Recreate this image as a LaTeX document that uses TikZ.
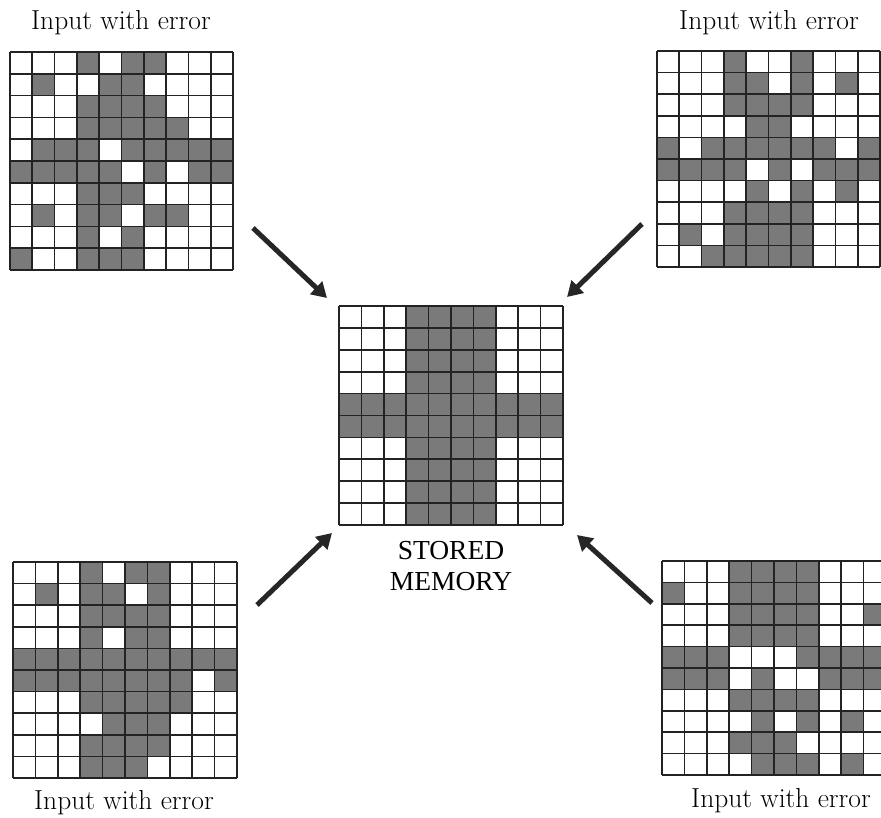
\documentclass[tikz,border=0pt]{standalone}
\usepackage{fontspec}
\newfontfamily\timesfont{Liberation Serif}
\usetikzlibrary{arrows.meta,fit}
\definecolor{cellgray}{RGB}{122,122,122}
\definecolor{linegray}{RGB}{35,35,35}
\tikzset{
  cellfill/.style={fill=cellgray},
  gridline/.style={draw=linegray,line width=1.7pt},
  bigarrow/.style={draw=black!85,line width=5pt,-{Triangle[length=15pt,width=17pt]}},
  inlabel/.style={font=\fontsize{27.5}{32}\selectfont,anchor=base,inner sep=0pt},
  memlabel/.style={font=\timesfont\fontsize{27.5}{31}\selectfont,anchor=base,inner sep=0pt},
  gridbox/.style={inner sep=0pt,draw=none}
}
\newcommand\mygrid[6]{%
  \foreach \rl [count=\j from 0] in {#6} {
    \foreach \v [count=\i from 0] in \rl {
      \ifnum\v=1 \fill[cellfill] (#2+\i*#4,#3+\j*#5) rectangle ++(#4,#5);\fi
    }
  }
  \foreach \k in {0,...,10} {
    \draw[gridline] (#2+\k*#4,#3) -- ++(0,10*#5);
    \draw[gridline] (#2,#3+\k*#5) -- ++(10*#4,0);
  }
  \coordinate (#1-nw) at (#2,#3);
  \coordinate (#1-se) at (#2+10*#4,#3+10*#5);
  \node[gridbox,fit=(#1-nw)(#1-se)] (#1) {};
}
\begin{document}
\begin{tikzpicture}[x=1pt,y=-1pt]
\useasboundingbox (0,0) rectangle (881,817);
\fill[white] (0,0) rectangle (881,817);
\begin{scope}
\clip (0,0) rectangle (881,817);
% top-left
\mygrid{tl}{10}{52}{22.3}{21.8}{
 {0,0,0,1,0,1,1,0,0,0},
 {0,1,0,0,1,1,0,0,0,0},
 {0,0,0,1,1,1,1,0,0,0},
 {0,0,0,1,1,1,1,1,0,0},
 {0,1,1,1,0,1,1,1,1,1},
 {1,1,1,1,1,0,1,0,1,1},
 {0,0,0,1,1,1,0,0,0,0},
 {0,1,0,1,1,0,1,1,0,0},
 {0,0,0,1,0,1,0,0,0,0},
 {1,0,0,1,1,1,0,0,0,0}}
% top-right
\mygrid{tr}{657}{51}{22.3}{21.6}{
 {0,0,0,1,0,0,1,0,0,0},
 {0,0,0,1,1,0,1,0,1,0},
 {0,0,0,1,1,1,1,0,0,0},
 {0,0,0,0,1,1,0,0,0,0},
 {1,0,1,1,1,1,1,1,0,1},
 {1,1,1,1,0,1,0,1,1,1},
 {0,0,0,0,1,0,1,0,1,0},
 {0,0,0,1,1,1,1,0,0,0},
 {0,1,0,1,1,1,1,0,0,0},
 {0,0,1,1,1,1,1,0,0,0}}
% centre
\mygrid{mem}{339}{306}{22.4}{21.9}{
 {0,0,0,1,1,1,1,0,0,0},
 {0,0,0,1,1,1,1,0,0,0},
 {0,0,0,1,1,1,1,0,0,0},
 {0,0,0,1,1,1,1,0,0,0},
 {1,1,1,1,1,1,1,1,1,1},
 {1,1,1,1,1,1,1,1,1,1},
 {0,0,0,1,1,1,1,0,0,0},
 {0,0,0,1,1,1,1,0,0,0},
 {0,0,0,1,1,1,1,0,0,0},
 {0,0,0,1,1,1,1,0,0,0}}
% bottom-left
\mygrid{bl}{13}{562}{22.4}{21.6}{
 {0,0,0,1,0,1,1,0,0,0},
 {0,1,0,1,1,0,1,0,0,0},
 {0,0,0,1,1,1,1,0,0,0},
 {0,0,0,1,0,1,1,0,0,0},
 {1,1,1,1,1,1,1,1,1,1},
 {1,1,1,1,1,1,1,1,0,1},
 {0,0,0,1,1,1,1,1,0,0},
 {0,0,0,0,1,1,1,0,0,0},
 {0,0,0,1,1,1,1,0,0,0},
 {0,0,0,1,1,1,0,0,0,0}}
% bottom-right
\mygrid{br}{662}{561}{22.4}{21.4}{
 {0,0,0,1,1,1,1,0,0,0},
 {1,0,0,1,1,1,1,0,0,0},
 {0,0,0,1,1,1,1,0,0,1},
 {0,0,0,1,1,1,1,0,0,0},
 {1,1,1,0,0,0,1,1,1,1},
 {1,1,1,0,1,0,0,1,1,1},
 {0,0,0,1,1,1,1,0,0,0},
 {0,0,0,0,1,0,1,0,1,0},
 {0,0,0,1,1,1,0,0,0,0},
 {0,0,0,0,1,1,1,0,1,0}}
\end{scope}
% labels
\node[inlabel] (ltl) at (121,29) {Input with error};
\node[inlabel] (ltr) at (769,29) {Input with error};
\node[inlabel] (lbl) at (124,809) {Input with error};
\node[inlabel] (lbr) at (781,807) {Input with error};
\node[memlabel] (lmem1) at (451,559) {STORED};
\node[memlabel] (lmem2) at (451,590) {MEMORY};
% arrows
\coordinate (atl1) at (253,228); \coordinate (atl2) at (327,298);
\coordinate (atr1) at (642,224); \coordinate (atr2) at (567,297);
\coordinate (abl1) at (257,605); \coordinate (abl2) at (332,533);
\coordinate (abr1) at (652,603); \coordinate (abr2) at (577,535);
\draw[bigarrow] (atl1) -- (atl2);
\draw[bigarrow] (atr1) -- (atr2);
\draw[bigarrow] (abl1) -- (abl2);
\draw[bigarrow] (abr1) -- (abr2);
\end{tikzpicture}
\end{document}
